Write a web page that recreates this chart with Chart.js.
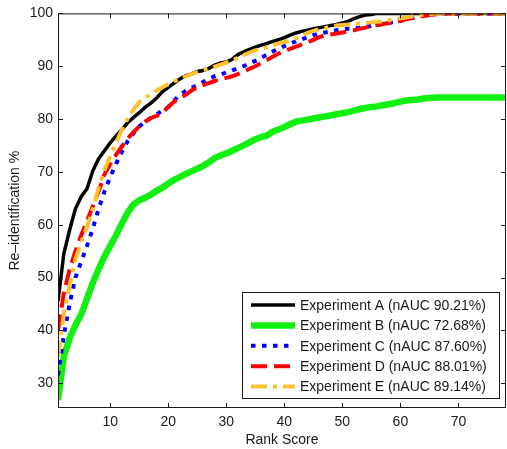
<!DOCTYPE html>
<html>
<head>
<meta charset="utf-8">
<script src="https://cdn.jsdelivr.net/npm/chart.js@4.4.0/dist/chart.umd.min.js"></script>
<style>
  html, body { margin: 0; padding: 0; background: #fff; }
</style>
</head>
<body>
<canvas id="reidChart" width="507" height="449"></canvas>
<script>
var ranks = [
  1, 2, 3, 4, 5, 6, 7, 8, 9, 10,
  11, 12, 13, 14, 15, 16, 17, 18, 19, 20,
  21, 22, 23, 24, 25, 26, 27, 28, 29, 30,
  31, 32, 33, 34, 35, 36, 37, 38, 39, 40,
  41, 42, 43, 44, 45, 46, 47, 48, 49, 50,
  51, 52, 53, 54, 55, 56, 57, 58, 59, 60,
  61, 62, 63, 64, 65, 66, 67, 68, 69, 70,
  71, 72, 73, 74, 75, 76, 77, 78, 79
];
var expA = [
  45.5, 54.5, 59, 63, 65.3, 66.8, 70.2, 72.5, 74, 75.5,
  76.8, 78, 79.3, 80.3, 81.2, 82.2, 83, 84, 85.2, 86,
  86.8, 87.6, 88.2, 88.5, 89, 89.2, 89.6, 90.2, 90.6, 90.8,
  91.3, 92.2, 92.7, 93.2, 93.6, 94, 94.3, 94.7, 95, 95.4,
  95.9, 96.3, 96.6, 96.8, 97.1, 97.3, 97.5, 97.7, 97.9, 98.2,
  98.5, 99, 99.4, 99.7, 99.8, 100, 100, 100, 100, 100,
  100, 100, 100, 100, 100, 100, 100, 100, 100, 100,
  100, 100, 100, 100, 100, 100, 100, 100, 100
];
var expB = [
  26.8, 35, 38.5, 41, 43, 46, 49, 51.6, 54, 56,
  58, 60.2, 62.3, 63.8, 64.6, 65.1, 65.7, 66.4, 67, 67.8,
  68.5, 69, 69.6, 70.1, 70.6, 71.1, 71.8, 72.6, 73.1, 73.5,
  74, 74.5, 75, 75.6, 76.2, 76.6, 76.9, 77.6, 78, 78.5,
  79, 79.5, 79.7, 79.9, 80.1, 80.3, 80.5, 80.7, 80.9, 81.1,
  81.3, 81.6, 81.9, 82.1, 82.3, 82.4, 82.6, 82.8, 83, 83.3,
  83.5, 83.6, 83.7, 83.9, 84, 84.1, 84.1, 84.1, 84.1, 84.1,
  84.1, 84.1, 84.1, 84.1, 84.1, 84.1, 84.1, 84.1, 84.1
];
var expC = [
  31.5, 39, 45, 50, 53, 56, 59.3, 63, 66.3, 69,
  71.5, 73.8, 75.8, 77.3, 78.6, 79.5, 80.2, 80.9, 81.6, 82.3,
  83.5, 84.6, 85.3, 85.9, 86.4, 87, 87.6, 88.1, 88.4, 88.8,
  89.2, 89.6, 90, 90.5, 91, 91.6, 92.2, 92.8, 93.3, 93.8,
  94.3, 94.7, 95.1, 95.5, 95.9, 96.2, 96.4, 96.6, 96.8, 97,
  97.1, 97.2, 97.3, 97.5, 97.6, 97.8, 98, 98.2, 98.4, 98.6,
  98.8, 99.1, 99.4, 99.6, 99.8, 100, 100, 100, 100, 100,
  100, 100, 100, 100, 100, 100, 100, 100, 100
];
var expD = [
  40, 47, 51.5, 55, 58, 60.7, 63.5, 66.3, 69.5, 71.5,
  73.2, 74.8, 76.3, 77.5, 78.6, 79.5, 80.2, 80.6, 81.2, 82.3,
  83.3, 84, 84.6, 85.4, 86, 86.4, 86.8, 87.2, 87.5, 87.8,
  88.1, 88.5, 89, 89.5, 90, 90.6, 91.2, 91.8, 92.4, 92.8,
  93.3, 93.7, 94.1, 94.5, 95, 95.5, 95.8, 96, 96.2, 96.4,
  96.6, 96.8, 97.1, 97.3, 97.6, 97.8, 98, 98.2, 98.4, 98.6,
  98.9, 99.1, 99.3, 99.5, 99.7, 99.8, 100, 100, 100, 100,
  100, 100, 100, 100, 100, 100, 100, 100, 100
];
var expE = [
  35, 43, 48.5, 53.5, 56.7, 59.6, 63, 67, 70.3, 73,
  75.5, 78, 80.1, 81.8, 83.2, 84, 84.7, 85.4, 86, 86.6,
  87.1, 87.6, 88.1, 88.5, 88.9, 89.3, 89.6, 89.9, 90.3, 90.7,
  91.1, 91.6, 92.1, 92.6, 93, 93.3, 93.6, 93.9, 94.3, 94.6,
  94.9, 95.3, 95.8, 96.3, 96.7, 97, 97.2, 97.5, 97.7, 97.8,
  97.9, 98, 98.1, 98.2, 98.3, 98.4, 98.5, 98.7, 98.9, 99.1,
  99.2, 99.4, 99.6, 99.7, 99.8, 100, 100, 100, 100, 100,
  100, 100, 100, 100, 100, 100, 100, 100, 100
];
var seriesNames = [
  'Experiment A (nAUC 90.21%)',
  'Experiment B (nAUC 72.68%)',
  'Experiment C (nAUC 87.60%)',
  'Experiment D (nAUC 88.01%)',
  'Experiment E (nAUC 89.14%)'
];
var xTicks = [10, 20, 30, 40, 50, 60, 70];
var yTicks = [30, 40, 50, 60, 70, 80, 90, 100];

var FONT = 'Liberation Sans, Arial, Helvetica, sans-serif';
var INK = '#1a1a1a';

function points(vals) {
  return ranks.map(function (r, i) { return { x: r, y: vals[i] }; });
}

// matlab-ish box with inward ticks + legend inside the axes
var matlabBox = {
  id: 'matlabBox',
  afterDatasetsDraw: function (chart) {
    var ctx = chart.ctx;
    var a = chart.chartArea;
    var sx = chart.scales.x, sy = chart.scales.y;
    ctx.save();
    ctx.strokeStyle = INK;
    ctx.lineWidth = 1;
    ctx.setLineDash([]);
    ctx.strokeRect(a.left + 0.5, a.top + 0.5, a.right - a.left - 1, a.bottom - a.top - 1);
    ctx.beginPath();
    xTicks.forEach(function (v) {
      var px = Math.round(sx.getPixelForValue(v)) + 0.5;
      ctx.moveTo(px, a.bottom); ctx.lineTo(px, a.bottom - 5);
      ctx.moveTo(px, a.top); ctx.lineTo(px, a.top + 5);
    });
    yTicks.forEach(function (v) {
      var py = Math.round(sy.getPixelForValue(v)) + 0.5;
      ctx.moveTo(a.left, py); ctx.lineTo(a.left + 5, py);
      ctx.moveTo(a.right, py); ctx.lineTo(a.right - 5, py);
    });
    ctx.stroke();

    // legend
    var bx = 242, by = 292, bw = 257, bh = 106;
    ctx.fillStyle = '#fff';
    ctx.fillRect(bx, by, bw, bh);
    ctx.strokeStyle = INK;
    ctx.strokeRect(bx + 0.5, by + 0.5, bw, bh);
    ctx.font = '14px ' + FONT;
    ctx.textBaseline = 'middle';
    ctx.textAlign = 'left';
    chart.data.datasets.forEach(function (ds, i) {
      var ly = 305 + i * 20.4;
      ctx.beginPath();
      ctx.strokeStyle = ds.borderColor;
      ctx.lineWidth = ds.borderWidth;
      ctx.setLineDash(ds.borderDash || []);
      ctx.moveTo(251, ly); ctx.lineTo(295, ly);
      ctx.stroke();
      ctx.fillStyle = INK;
      ctx.fillText(ds.label, 300, ly + 1);
    });
    ctx.restore();
  }
};

function lineSet(label, vals, color, width, dash, order) {
  return {
    label: label,
    data: points(vals),
    borderColor: color,
    borderWidth: width,
    borderDash: dash,
    pointRadius: 0,
    tension: 0,
    fill: false,
    order: order
  };
}

var chart = new Chart(document.getElementById('reidChart').getContext('2d'), {
  type: 'line',
  data: {
    datasets: [
      lineSet(seriesNames[0], expA, '#000000', 3.5, [], 5),
      lineSet(seriesNames[1], expB, '#11f011', 6.5, [], 4),
      lineSet(seriesNames[2], expC, '#0000ff', 4, [4.5, 6.5], 3),
      lineSet(seriesNames[3], expD, '#ff0000', 4, [16, 7], 2),
      lineSet(seriesNames[4], expE, '#fdc22f', 4, [16, 6, 4, 6], 1)
    ]
  },
  options: {
    responsive: false,
    animation: false,
    events: [],
    layout: { padding: { top: 13, right: 1, left: 0, bottom: 0 } },
    plugins: {
      legend: { display: false },
      tooltip: { enabled: false }
    },
    scales: {
      x: {
        type: 'linear',
        min: 1,
        max: 78.2,
        grid: { display: false, drawTicks: false },
        border: { display: false },
        afterBuildTicks: function (s) { s.ticks = xTicks.map(function (v) { return { value: v }; }); },
        afterFit: function (s) { s.height = 41; },
        ticks: { font: { size: 14, family: FONT }, color: INK, padding: 6, maxRotation: 0 },
        title: { display: true, text: 'Rank Score', font: { size: 14, family: FONT }, color: INK, padding: { top: 0, bottom: 0 } }
      },
      y: {
        min: 25.3,
        max: 100,
        grid: { display: false, drawTicks: false },
        border: { display: false },
        afterBuildTicks: function (s) { s.ticks = yTicks.map(function (v) { return { value: v }; }); },
        afterFit: function (s) { s.width = 58; },
        ticks: { font: { size: 14, family: FONT }, color: INK, padding: 5 },
        title: { display: true, text: 'Re–identification %', font: { size: 14, family: FONT }, color: INK, padding: { top: 7, bottom: 0 } }
      }
    }
  },
  plugins: [matlabBox]
});
</script>
</body>
</html>
